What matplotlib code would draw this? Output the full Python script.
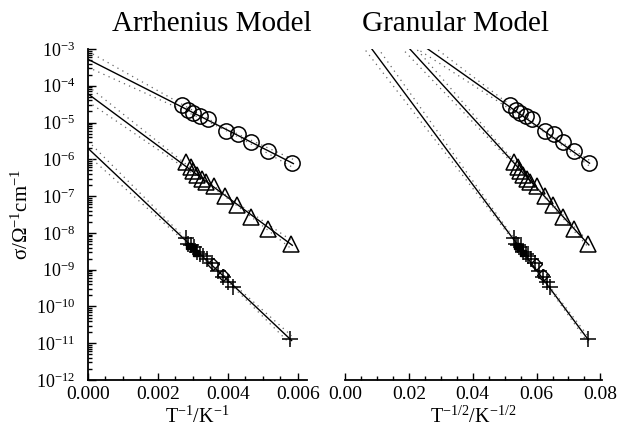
import numpy as np
import matplotlib
matplotlib.use("Agg")
import matplotlib.pyplot as plt
from matplotlib.ticker import MultipleLocator, LogLocator, FixedLocator, FuncFormatter, NullFormatter

plt.rcParams['font.family'] = ['Liberation Serif', 'DejaVu Serif']
plt.rcParams['mathtext.fontset'] = 'custom'
plt.rcParams['mathtext.rm'] = 'Liberation Serif'
plt.rcParams['mathtext.it'] = 'Liberation Serif:italic'
plt.rcParams['mathtext.bf'] = 'Liberation Serif:bold'

# ---- data: inverse temperature (1/K) and log10 conductivity ----
circle_invT = [0.00268, 0.00286, 0.00300, 0.00320, 0.00342, 0.00394, 0.00429, 0.00465, 0.00514, 0.00582]
circle_logs = [-4.52, -4.66, -4.74, -4.82, -4.90, -5.22, -5.31, -5.52, -5.76, -6.09]

tri_invT = [0.00280, 0.00293, 0.00299, 0.00311, 0.00325, 0.00337, 0.00360, 0.00391, 0.00425, 0.00465, 0.00515, 0.00579]
tri_logs = [-6.06, -6.20, -6.33, -6.42, -6.54, -6.61, -6.72, -7.00, -7.24, -7.56, -7.90, -8.30]

cross_invT = [0.00280, 0.00286, 0.00294, 0.00303, 0.00311, 0.00320, 0.00329, 0.00340, 0.00354, 0.00371, 0.00386, 0.00400, 0.00414, 0.00577]
cross_logs = [-8.14, -8.30, -8.33, -8.38, -8.52, -8.57, -8.63, -8.71, -8.82, -9.04, -9.20, -9.33, -9.47, -10.88]

fsq_invT = [0.00290, 0.00300, 0.00310]
fsq_logs = [-8.36, -8.42, -8.55]
osq_invT = [0.00357, 0.00386]
osq_logs = [-8.85, -9.14]

# fitted lines (log10 sigma = a + b*x)
arr_intercepts = [-3.28, -4.22, -5.70]
arr_slopes = [-483.0, -705.0, -898.0]
gran_intercepts = [-1.41, -1.07, -2.02]
gran_slopes = [-61.3, -95.0, -116.6]

xticks_left = [0.000, 0.002, 0.004, 0.006]
xticks_right = [0.00, 0.02, 0.04, 0.06, 0.08]
decades = list(range(-12, -2))

series = [
    (circle_invT, circle_logs, 'o'),
    (tri_invT, tri_logs, '^'),
    (cross_invT, cross_logs, '+'),
]

fig = plt.figure(figsize=(6.18, 4.33), dpi=100)
axL = fig.add_axes([88/618, 53/433, 219/618, 331/433])
axR = fig.add_axes([345/618, 53/433, 257/618, 331/433])

mstyle = dict(markersize=11, markerfacecolor='none', markeredgecolor='black',
              markeredgewidth=1.1, linestyle='none')


def band(ax, xs, a, b, xc, w):
    y = a + b * xs
    off = np.sqrt(0.03**2 + (w * (xs - xc))**2)
    ax.plot(xs, 10**(y + off), color='#666666', lw=0.9, ls=(0, (1, 3.5)))
    ax.plot(xs, 10**(y - off), color='#666666', lw=0.9, ls=(0, (1, 3.5)))


# Left: Arrhenius
for (xv, lv, m), a, b in zip(series, arr_intercepts, arr_slopes):
    xv = np.array(xv)
    xs = np.linspace(0, xv.max() + 0.00005, 200)
    axL.plot(xs, 10**(a + b * xs), color='black', lw=1.0)
    band(axL, xs, a, b, xv.mean(), 55.0)
    axL.plot(xv, 10**np.array(lv), marker=m, **mstyle)
axL.plot(fsq_invT, 10**np.array(fsq_logs), marker='s', markersize=5, color='black', linestyle='none')
axL.plot(osq_invT, 10**np.array(osq_logs), marker='D', markersize=6, markerfacecolor='none',
         markeredgecolor='black', linestyle='none')

# Right: Granular
for (xv, lv, m), a, b in zip(series, gran_intercepts, gran_slopes):
    xr = np.sqrt(np.array(xv))
    xs = np.linspace(0.0, xr.max() + 0.0003, 300)
    axR.plot(xs, 10**(a + b * xs), color='black', lw=1.0)
    band(axR, xs, a, b, xr.mean(), 5.0)
    axR.plot(xr, 10**np.array(lv), marker=m, **mstyle)
axR.plot(np.sqrt(fsq_invT), 10**np.array(fsq_logs), marker='s', markersize=5, color='black', linestyle='none')
axR.plot(np.sqrt(osq_invT), 10**np.array(osq_logs), marker='D', markersize=6, markerfacecolor='none',
         markeredgecolor='black', linestyle='none')

for ax in (axL, axR):
    ax.set_yscale('log')
    ax.set_ylim(1e-12, 1e-3)
    for s in ('top', 'right'):
        ax.spines[s].set_visible(False)
    ax.spines['bottom'].set_linewidth(1.3)
    ax.spines['left'].set_linewidth(1.3)
    ax.tick_params(which='both', direction='in', width=1.0)
    ax.tick_params(which='major', length=5)
    ax.tick_params(which='minor', length=3)
    ax.tick_params(axis='x', which='major', labelsize=14, pad=4)

axL.set_xlim(0, 0.00626)
axL.xaxis.set_major_locator(FixedLocator(xticks_left))
axL.xaxis.set_minor_locator(MultipleLocator(0.0005))
axL.xaxis.set_major_formatter(FuncFormatter(lambda v, p: f"{v:.3f}"))
axL.yaxis.set_major_locator(FixedLocator([10.0**d for d in decades]))
axL.yaxis.set_minor_locator(LogLocator(base=10, subs=np.arange(2, 10), numticks=20))
axL.yaxis.set_minor_formatter(NullFormatter())
axL.yaxis.set_major_formatter(FuncFormatter(lambda v, p: r'$\mathregular{10^{%d}}$' % round(np.log10(v))))
axL.tick_params(axis='y', which='major', length=6, pad=9, labelsize=13)

axR.set_xlim(0, 0.0805)
axR.spines['left'].set_visible(False)
axR.xaxis.set_major_locator(FixedLocator(xticks_right))
axR.xaxis.set_minor_locator(MultipleLocator(0.005))
axR.xaxis.set_major_formatter(FuncFormatter(lambda v, p: f"{v:.2f}"))
axR.tick_params(axis='y', which='both', left=False, labelleft=False)

axL.set_xlabel(r'$\mathregular{T^{-1}/K^{-1}}$', fontsize=14.5, labelpad=3)
axR.set_xlabel(r'$\mathregular{T^{-1/2}/K^{-1/2}}$', fontsize=14.5, labelpad=3)
axL.set_ylabel(r'$\mathregular{σ/Ω^{-1}cm^{-1}}$', fontsize=15, labelpad=2)

fig.text(212/618, 1 - 24/433, 'Arrhenius Model', ha='center', va='center', fontsize=21)
fig.text(455/618, 1 - 24/433, 'Granular Model', ha='center', va='center', fontsize=21)

fig.savefig('out.png', dpi=100)
